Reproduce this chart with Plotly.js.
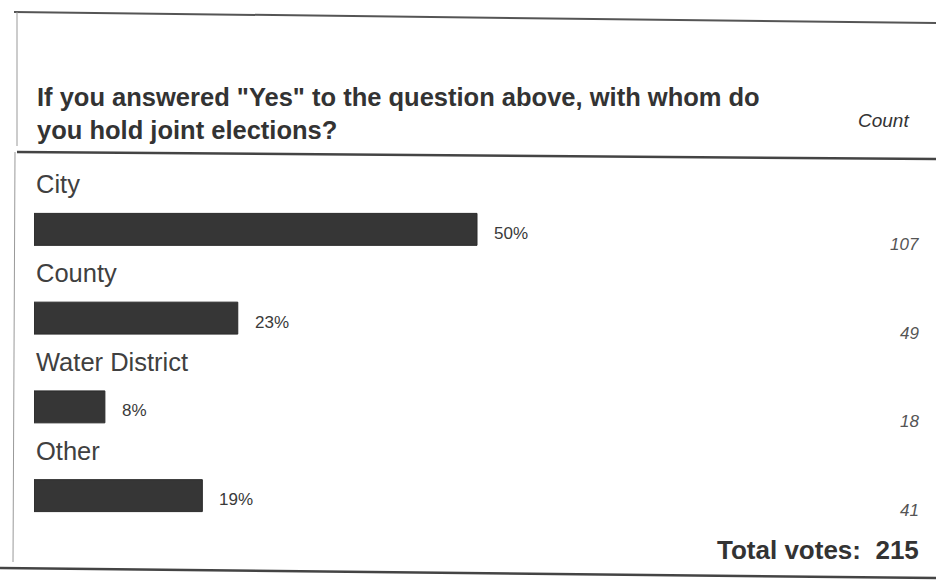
<!DOCTYPE html>
<html>
<head>
<meta charset="utf-8">
<script src="https://cdn.plot.ly/plotly-3.0.1.min.js"></script>
<style>html,body{margin:0;padding:0;background:#fff;}#chart{width:936px;height:585px;}</style>
</head>
<body>
<div id="chart"></div>
<script>
var categories = ["City", "County", "Water District", "Other"];
var percents = [50, 23, 8, 19];
var counts = [107, 49, 18, 41];
var totalVotes = 215;
var titleLines = ['If you answered "Yes" to the question above, with whom do', 'you hold joint elections?'];

var W = 936, H = 585;
var ml = 34, mr = 16, mt = 185, mb = 45;
var pw = W - ml - mr, ph = H - mt - mb;
function px(x) { return (x - ml) / pw; }
function py(y) { return 1 - (y - mt) / ph; }

var FONT = "Liberation Sans, Arial, sans-serif";

var trace = {
  type: "bar",
  orientation: "h",
  x: percents,
  y: categories,
  width: 0.36,
  marker: { color: "#363636", line: { color: "#2a2a2a", width: 1 } },
  hoverinfo: "none"
};

var annotations = [];
categories.forEach(function (c, i) {
  annotations.push({
    x: 0, y: c, xref: "x", yref: "y", text: c, showarrow: false,
    xanchor: "left", yanchor: "middle", xshift: 0, yshift: 45,
    font: { family: FONT, size: 25.5, color: "#404040" }
  });
  annotations.push({
    x: percents[i], y: c, xref: "x", yref: "y", text: percents[i] + "%", showarrow: false,
    xanchor: "left", yanchor: "middle", xshift: 15, yshift: -4,
    font: { family: FONT, size: 17, color: "#3a3a3a" }
  });
  annotations.push({
    x: px(921), y: c, xref: "paper", yref: "y", text: "<i>" + counts[i] + "</i>", showarrow: false,
    xanchor: "right", yanchor: "middle", yshift: -15,
    font: { family: FONT, size: 17, color: "#555" }
  });
});

annotations.push({
  x: px(35), y: py(113), xref: "paper", yref: "paper",
  text: "<b>" + titleLines.join("<br>") + "</b>",
  showarrow: false, xanchor: "left", yanchor: "middle", align: "left",
  font: { family: FONT, size: 25.5, color: "#333" }
});
annotations.push({
  x: px(911), y: py(120), xref: "paper", yref: "paper", text: "<i>Count</i>",
  showarrow: false, xanchor: "right", yanchor: "middle",
  font: { family: FONT, size: 19, color: "#333" }
});
annotations.push({
  x: px(921), y: py(550), xref: "paper", yref: "paper", text: "<b>Total votes:&nbsp; " + totalVotes + "</b>",
  showarrow: false, xanchor: "right", yanchor: "middle",
  font: { family: FONT, size: 26, color: "#333" }
});

function line(x0, y0, x1, y1, color, w) {
  return { type: "line", xref: "paper", yref: "paper", x0: px(x0), y0: py(y0), x1: px(x1), y1: py(y1),
    line: { color: color, width: w } };
}
var shapes = [
  line(14, 12, 936, 23, "#555", 2),
  line(17, 12, 17, 146, "#999", 1),
  line(17, 152, 936, 159, "#444", 2.5),
  line(15, 152, 13, 562, "#999", 1),
  line(0, 568, 936, 578, "#444", 2.5)
];

var layout = {
  width: W, height: H,
  margin: { l: ml, r: mr, t: mt, b: mb },
  paper_bgcolor: "#fff", plot_bgcolor: "#fff",
  showlegend: false,
  xaxis: { range: [0, 100], visible: false, fixedrange: true },
  yaxis: { type: "category", range: [3.5, -0.5], visible: false, fixedrange: true },
  annotations: annotations,
  shapes: shapes
};

Plotly.newPlot("chart", [trace], layout, { displayModeBar: false, staticPlot: true });
</script>
</body>
</html>
